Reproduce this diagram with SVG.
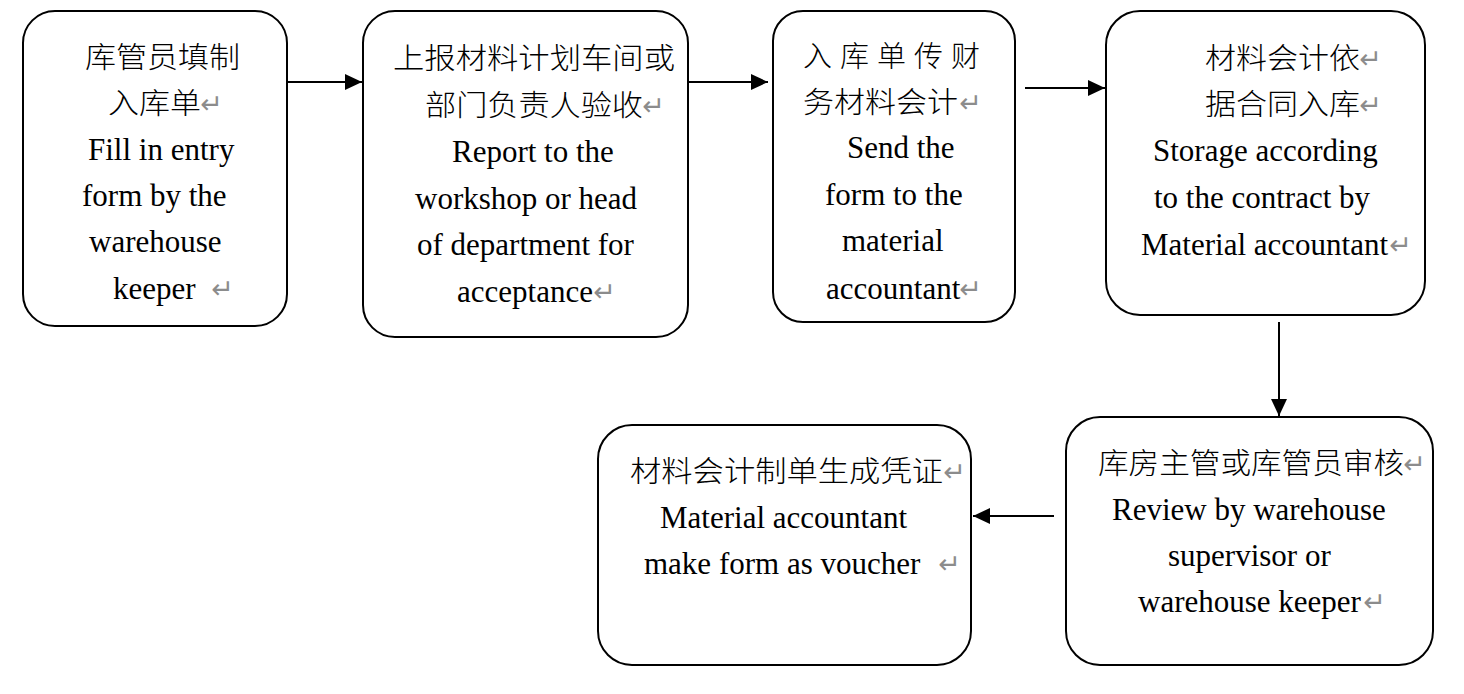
<svg xmlns="http://www.w3.org/2000/svg" width="1464" height="694" viewBox="0 0 1464 694">
  <style>
    .box { fill: #ffffff; stroke: #000000; stroke-width: 2; }
    .en { font-family: "Liberation Serif", "Times New Roman", serif; font-size: 31px; fill: #000000; }
    .zh { font-family: "Noto Sans CJK SC", "Noto Sans CJK TC", sans-serif; font-size: 29px; fill: #000000; font-weight: 300; }
    .ret { font-family: "DejaVu Sans", sans-serif; font-size: 27px; fill: #8c8c8c; }
    .edge { stroke: #000000; stroke-width: 2; fill: none; marker-end: url(#arrow); }
  </style>
  <defs>
    <marker id="arrow" markerUnits="userSpaceOnUse" markerWidth="18" markerHeight="16" refX="17" refY="8" orient="auto">
      <path d="M0,0 L17,8 L0,16 Z" fill="#000000"/>
    </marker>
  </defs>
  <rect width="1464" height="694" fill="#ffffff"/>

  <g id="connectors">
    <line class="edge" x1="284" y1="82" x2="362" y2="82"/>
    <line class="edge" x1="689" y1="82" x2="768" y2="82"/>
    <line class="edge" x1="1025" y1="88" x2="1105" y2="88"/>
    <line class="edge" x1="1279" y1="322" x2="1279" y2="416"/>
    <line class="edge" x1="1054" y1="516" x2="973" y2="516"/>
  </g>

  <g id="node-fill-entry">
    <rect class="box" x="23" y="11" width="264" height="315" rx="32"/>
    <text class="zh" x="85" y="68" textLength="155" lengthAdjust="spacingAndGlyphs">库管员填制</text>
    <text class="zh" x="108" y="114" textLength="93" lengthAdjust="spacingAndGlyphs">入库单</text>
    <text class="ret" x="200" y="113">↵</text>
    <text class="en" x="88" y="160">Fill in entry</text>
    <text class="en" x="82" y="206">form by the</text>
    <text class="en" x="89" y="252">warehouse</text>
    <text class="en" x="113" y="299">keeper</text>
    <text class="ret" x="211" y="298">↵</text>
  </g>

  <g id="node-report">
    <rect class="box" x="363" y="11" width="325" height="326" rx="32"/>
    <text class="zh" x="393" y="69" textLength="282" lengthAdjust="spacingAndGlyphs">上报材料计划车间或</text>
    <text class="zh" x="425" y="116" textLength="218" lengthAdjust="spacingAndGlyphs">部门负责人验收</text>
    <text class="ret" x="642" y="115">↵</text>
    <text class="en" x="452" y="162">Report to the</text>
    <text class="en" x="415" y="209">workshop or head</text>
    <text class="en" x="417" y="255">of department for</text>
    <text class="en" x="457" y="302">acceptance</text>
    <text class="ret" x="593" y="301">↵</text>
  </g>

  <g id="node-send-form">
    <rect class="box" x="773" y="11" width="242" height="311" rx="30"/>
    <text class="zh" x="803" y="67" textLength="177" lengthAdjust="spacing">入库单传财</text>
    <text class="zh" x="803" y="113" textLength="155" lengthAdjust="spacingAndGlyphs">务材料会计</text>
    <text class="ret" x="959" y="112">↵</text>
    <text class="en" x="847" y="158">Send the</text>
    <text class="en" x="825" y="205">form to the</text>
    <text class="en" x="842" y="251">material</text>
    <text class="en" x="826" y="299">accountant</text>
    <text class="ret" x="959" y="298">↵</text>
  </g>

  <g id="node-storage">
    <rect class="box" x="1106" y="11" width="319" height="304" rx="34"/>
    <text class="zh" x="1205" y="69" textLength="155" lengthAdjust="spacingAndGlyphs">材料会计依</text>
    <text class="ret" x="1359" y="68">↵</text>
    <text class="zh" x="1205" y="115" textLength="155" lengthAdjust="spacingAndGlyphs">据合同入库</text>
    <text class="ret" x="1359" y="114">↵</text>
    <text class="en" x="1153" y="161">Storage according</text>
    <text class="en" x="1154" y="208">to the contract by</text>
    <text class="en" x="1141" y="255">Material accountant</text>
    <text class="ret" x="1389" y="254">↵</text>
  </g>

  <g id="node-review">
    <rect class="box" x="1066" y="417" width="367" height="248" rx="34"/>
    <text class="zh" x="1098" y="474" textLength="306" lengthAdjust="spacingAndGlyphs">库房主管或库管员审核</text>
    <text class="ret" x="1403" y="473">↵</text>
    <text class="en" x="1112" y="520">Review by warehouse</text>
    <text class="en" x="1168" y="566">supervisor or</text>
    <text class="en" x="1138" y="612">warehouse keeper</text>
    <text class="ret" x="1363" y="611">↵</text>
  </g>

  <g id="node-voucher">
    <rect class="box" x="598" y="425" width="373" height="240" rx="34"/>
    <text class="zh" x="630" y="482" textLength="313" lengthAdjust="spacingAndGlyphs">材料会计制单生成凭证</text>
    <text class="ret" x="943" y="481">↵</text>
    <text class="en" x="660" y="528">Material accountant</text>
    <text class="en" x="644" y="574">make form as voucher</text>
    <text class="ret" x="938" y="573">↵</text>
  </g>
</svg>
